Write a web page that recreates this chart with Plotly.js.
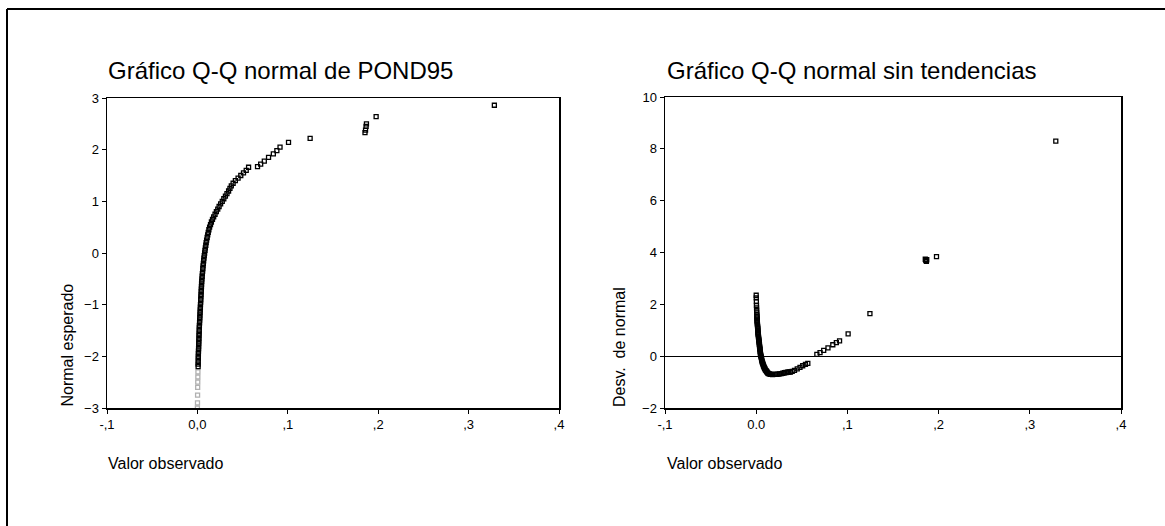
<!DOCTYPE html>
<html>
<head>
<meta charset="utf-8">
<script src="https://cdn.plot.ly/plotly-3.0.1.min.js"></script>
<style>html,body{margin:0;padding:0;background:#fff}#chart{width:1165px;height:526px}</style>
</head>
<body>
<div id="chart"></div>
<script>
// Observed values of POND95 (sorted)
const observed = [0.0000,0.0001,0.0002,0.0003,0.0004,0.0005,0.0006,0.0008,0.0008,0.0009,0.0010,0.0010,0.0011,0.0012,0.0013,0.0014,0.0015,0.0016,0.0017,0.0018,0.0019,0.0020,0.0021,0.0022,0.0024,0.0025,0.0027,0.0028,0.0030,0.0031,0.0033,0.0034,0.0036,0.0037,0.0039,0.0040,0.0042,0.0043,0.0045,0.0046,0.0048,0.0050,0.0053,0.0055,0.0058,0.0060,0.0063,0.0066,0.0069,0.0072,0.0076,0.0080,0.0084,0.0088,0.0093,0.0097,0.0102,0.0108,0.0114,0.0120,0.0127,0.0135,0.0145,0.0155,0.0167,0.0180,0.0195,0.0210,0.0225,0.0240,0.0257,0.0275,0.0292,0.0310,0.0327,0.0345,0.0360,0.0375,0.0395,0.0420,0.0450,0.0480,0.0510,0.0540,0.0566,0.0665,0.0700,0.0740,0.0787,0.0840,0.0879,0.0914,0.1008,0.1247,0.1854,0.1860,0.1866,0.1870,0.1977,0.3285];
// Expected normal values
const expectedNormal = [-3.00,-2.90,-2.75,-2.60,-2.50,-2.40,-2.30,-2.20,-2.15,-2.10,-2.05,-2.00,-1.95,-1.90,-1.85,-1.80,-1.75,-1.70,-1.65,-1.60,-1.55,-1.50,-1.45,-1.40,-1.35,-1.30,-1.25,-1.20,-1.15,-1.10,-1.05,-1.00,-0.95,-0.90,-0.85,-0.80,-0.75,-0.70,-0.65,-0.60,-0.55,-0.50,-0.45,-0.40,-0.35,-0.30,-0.25,-0.20,-0.15,-0.10,-0.05,0.00,0.05,0.10,0.15,0.20,0.25,0.30,0.35,0.40,0.45,0.50,0.55,0.60,0.65,0.70,0.75,0.80,0.85,0.90,0.95,1.00,1.05,1.10,1.15,1.20,1.25,1.30,1.35,1.40,1.45,1.50,1.55,1.60,1.66,1.67,1.72,1.78,1.85,1.92,1.98,2.05,2.14,2.22,2.33,2.38,2.45,2.50,2.64,2.86];
// Deviation from normal (detrended)
const deviation = [2.35,2.25,2.11,1.96,1.86,1.77,1.67,1.58,1.53,1.48,1.43,1.38,1.34,1.29,1.24,1.20,1.15,1.11,1.06,1.01,0.97,0.92,0.87,0.83,0.78,0.74,0.70,0.65,0.61,0.56,0.52,0.47,0.43,0.38,0.34,0.29,0.25,0.20,0.16,0.11,0.07,0.03,-0.01,-0.05,-0.09,-0.14,-0.18,-0.22,-0.25,-0.29,-0.33,-0.37,-0.40,-0.44,-0.47,-0.50,-0.54,-0.56,-0.59,-0.62,-0.65,-0.67,-0.68,-0.70,-0.70,-0.71,-0.70,-0.70,-0.70,-0.69,-0.68,-0.67,-0.66,-0.64,-0.63,-0.62,-0.61,-0.61,-0.59,-0.55,-0.49,-0.43,-0.37,-0.32,-0.28,0.07,0.14,0.22,0.32,0.44,0.52,0.59,0.86,1.64,3.74,3.70,3.66,3.72,3.84,8.30];

const xTickVals = [-0.1, 0, 0.1, 0.2, 0.3, 0.4];
const xTickTextLeft = ['-,1', '0,0', ',1', ',2', ',3', ',4'];
const xTickTextRight = ['-,1', '0.0', ',1', ',2', ',3', ',4'];
const yTickValsLeft = [-3, -2, -1, 0, 1, 2, 3];
const yTickValsRight = [-2, 0, 2, 4, 6, 8, 10];

const FONT = 'Arial, "Liberation Sans", sans-serif';
const W = 1165, H = 526;
const px = v => v / W;
const py = v => (H - v) / H;

const leftColors = expectedNormal.map(z => z < -2.25 ? '#b0b0b0' : '#000');

const markerBase = {symbol: 'square-open', size: 4, line: {width: 1.3}};

const traces = [
  {x: observed, y: expectedNormal, type: 'scatter', mode: 'markers', xaxis: 'x', yaxis: 'y',
   marker: Object.assign({}, markerBase, {color: leftColors}), hoverinfo: 'x+y'},
  {x: observed, y: deviation, type: 'scatter', mode: 'markers', xaxis: 'x2', yaxis: 'y2',
   marker: Object.assign({}, markerBase, {color: '#000'}), hoverinfo: 'x+y'}
];

const axisCommon = {
  showline: true, mirror: true, linecolor: '#000', linewidth: 1.5,
  ticks: 'outside', ticklen: 4, tickwidth: 1, tickcolor: '#000',
  showgrid: false, zeroline: false,
  tickfont: {family: FONT, size: 13, color: '#000'}
};

const layout = {
  width: W, height: H,
  margin: {l: 0, r: 0, t: 0, b: 0},
  paper_bgcolor: '#fff', plot_bgcolor: '#fff',
  showlegend: false,
  font: {family: FONT, color: '#000'},
  xaxis: Object.assign({}, axisCommon, {domain: [px(107), px(559)], range: [-0.1, 0.4],
    tickmode: 'array', tickvals: xTickVals, ticktext: xTickTextLeft, anchor: 'y'}),
  yaxis: Object.assign({}, axisCommon, {domain: [py(408), py(98)], range: [-3, 3],
    tickmode: 'array', tickvals: yTickValsLeft, anchor: 'x'}),
  xaxis2: Object.assign({}, axisCommon, {domain: [px(665), px(1121)], range: [-0.1, 0.4],
    tickmode: 'array', tickvals: xTickVals, ticktext: xTickTextRight, anchor: 'y2'}),
  yaxis2: Object.assign({}, axisCommon, {domain: [py(408), py(97)], range: [-2, 10],
    tickmode: 'array', tickvals: yTickValsRight, anchor: 'x2',
    zeroline: true, zerolinecolor: '#000', zerolinewidth: 1}),
  annotations: [
    {text: 'Gráfico Q-Q normal de POND95', xref: 'paper', yref: 'paper', x: px(106), y: py(70),
     xanchor: 'left', yanchor: 'middle', showarrow: false, font: {family: FONT, size: 24, color: '#000'}},
    {text: 'Gráfico Q-Q normal sin tendencias', xref: 'paper', yref: 'paper', x: px(665), y: py(70),
     xanchor: 'left', yanchor: 'middle', showarrow: false, font: {family: FONT, size: 24, color: '#000'}},
    {text: 'Valor observado', xref: 'paper', yref: 'paper', x: px(106), y: py(463),
     xanchor: 'left', yanchor: 'middle', showarrow: false, font: {family: FONT, size: 16, color: '#000'}},
    {text: 'Valor observado', xref: 'paper', yref: 'paper', x: px(665), y: py(463),
     xanchor: 'left', yanchor: 'middle', showarrow: false, font: {family: FONT, size: 16, color: '#000'}},
    {text: 'Normal esperado', xref: 'paper', yref: 'paper', x: px(67), y: py(409), textangle: -90,
     xanchor: 'center', yanchor: 'bottom', showarrow: false, font: {family: FONT, size: 16, color: '#000'}},
    {text: 'Desv.  de normal', xref: 'paper', yref: 'paper', x: px(619), y: py(409), textangle: -90,
     xanchor: 'center', yanchor: 'bottom', showarrow: false, font: {family: FONT, size: 16, color: '#000'}}
  ],
  shapes: [
    {type: 'line', xref: 'paper', yref: 'paper', x0: px(7), x1: 1, y0: py(9), y1: py(9), line: {color: '#000', width: 2}},
    {type: 'line', xref: 'paper', yref: 'paper', x0: px(7), x1: px(7), y0: py(9), y1: 0, line: {color: '#000', width: 2}}
  ]
};

Plotly.newPlot('chart', traces, layout, {displayModeBar: false, staticPlot: true});
</script>
</body>
</html>
